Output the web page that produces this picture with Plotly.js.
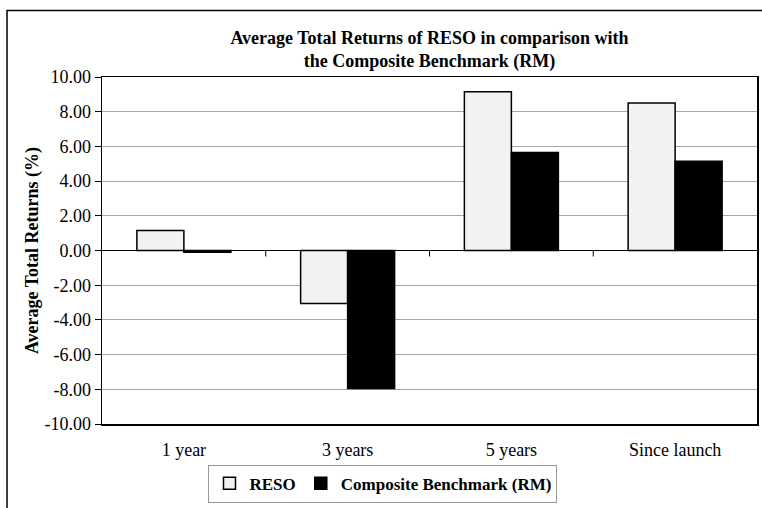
<!DOCTYPE html>
<html>
<head>
<meta charset="utf-8">
<script src="https://cdn.plot.ly/plotly-3.0.1.min.js"></script>
<style>
html,body{margin:0;padding:0;background:#fff;}
#chart{width:762px;height:508px;}
</style>
</head>
<body>
<div id="chart"></div>
<script>
const categories = ["1 year", "3 years", "5 years", "Since launch"];
const resoValues = [1.15, -3.05, 9.15, 8.50];
const benchmarkValues = [-0.10, -7.95, 5.65, 5.15];
const yTickValues = [-10, -8, -6, -4, -2, 0, 2, 4, 6, 8, 10];
const yTickLabels = ["-10.00", "-8.00", "-6.00", "-4.00", "-2.00", "0.00", "2.00", "4.00", "6.00", "8.00", "10.00"];

const FONT = "Liberation Serif, DejaVu Serif, serif";

const traces = [
  {
    type: "bar", name: "RESO", x: categories, y: resoValues,
    marker: {color: "#f2f2f2", line: {color: "#000", width: 1.5}}
  },
  {
    type: "bar", name: "Composite Benchmark (RM)", x: categories, y: benchmarkValues,
    marker: {color: "#000", line: {color: "#000", width: 1.5}}
  }
];

const boundaryShapes = [0.5, 1.5, 2.5].map(b => ({
  type: "line", xref: "x", yref: "y", x0: b, x1: b,
  ysizemode: "pixel", yanchor: 0, y0: 0, y1: -6,
  line: {color: "#000", width: 1}
}));

const layout = {
  width: 762, height: 508,
  margin: {l: 102, r: 5, t: 77, b: 84, autoexpand: false},
  paper_bgcolor: "#fff", plot_bgcolor: "#fff",
  font: {family: FONT, size: 18, color: "#000"},
  title: {
    text: "<b>Average Total Returns of RESO in comparison with<br>the Composite Benchmark (RM)</b>",
    font: {family: FONT, size: 18, color: "#000"},
    xref: "paper", x: 0.5, xanchor: "center",
    yref: "container", y: 1 - 44 / 508, yanchor: "middle"
  },
  barmode: "group", bargap: 0.426, bargroupgap: 0,
  showlegend: true,
  legend: {
    orientation: "h", x: 0.429, xanchor: "center", y: -0.117, yanchor: "top",
    bordercolor: "#999", borderwidth: 1, bgcolor: "#fff",
    font: {family: FONT, size: 17, color: "#000", weight: "bold"},
    itemwidth: 30, traceorder: "normal"
  },
  xaxis: {
    type: "category", showgrid: false, zeroline: false,
    showline: true, linecolor: "#000", linewidth: 1.5, mirror: true,
    ticks: "", ticklabelstandoff: 9,
    tickfont: {family: FONT, size: 18, color: "#000"},
    fixedrange: true
  },
  yaxis: {
    range: [-10, 10], tickvals: yTickValues, ticktext: yTickLabels,
    showgrid: true, gridcolor: "#a6a6a6", gridwidth: 1,
    zeroline: true, zerolinecolor: "#000", zerolinewidth: 1.5,
    showline: true, linecolor: "#000", linewidth: 1.5, mirror: true,
    ticks: "outside", ticklen: 6, tickcolor: "#000", tickwidth: 1,
    tickfont: {family: FONT, size: 18, color: "#000"},
    title: {text: "<b>Average Total Returns (%)</b>", font: {family: FONT, size: 18, color: "#000"}, standoff: 1},
    fixedrange: true
  },
  shapes: boundaryShapes.concat([{
    type: "rect", xref: "paper", yref: "paper",
    x0: -0.145, x1: 1.2, y0: -0.5, y1: 1.1916,
    line: {color: "#000", width: 1.5}, fillcolor: "rgba(0,0,0,0)"
  }])
};

Plotly.newPlot("chart", traces, layout, {displayModeBar: false, staticPlot: true});
</script>
</body>
</html>
